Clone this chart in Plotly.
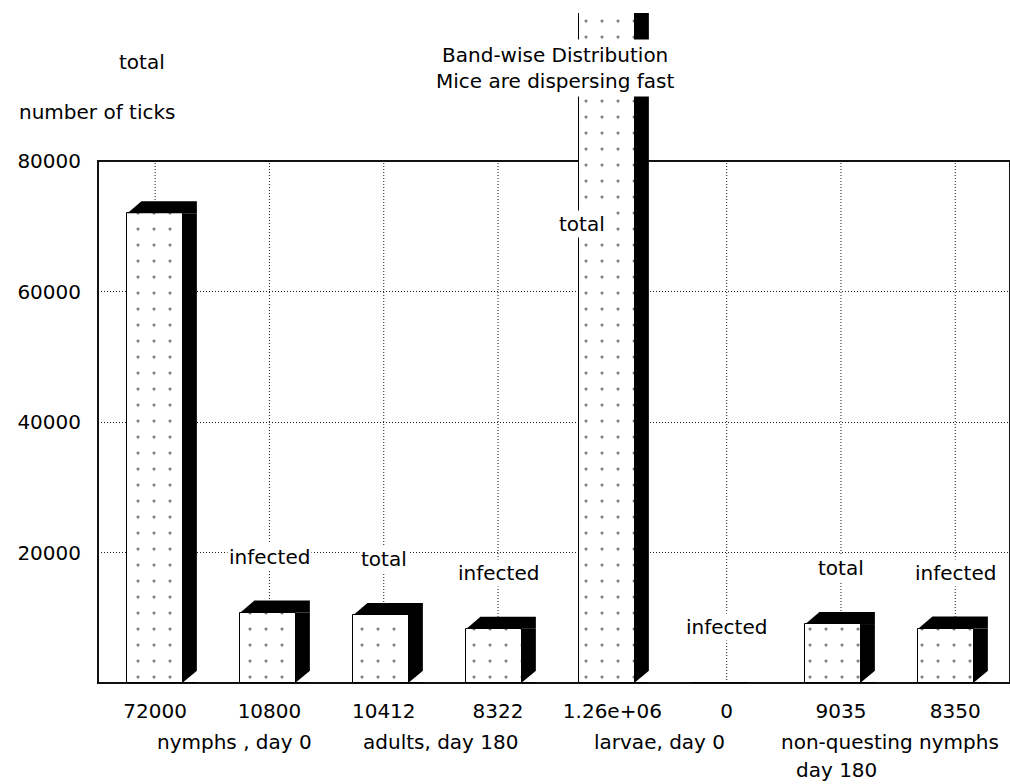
import plotly.graph_objects as go

# ---------------- data ----------------
values = [72000, 10800, 10412, 8322, 1260000, 0, 9035, 8350]
bar_labels = ["total", "infected", "total", "infected", "total", "infected", "total", "infected"]
groups = ["nymphs , day 0", "adults, day 180", "larvae, day 0", "non-questing nymphs"]
group_sub = ["", "", "", "day 180"]
ytick_vals = [20000, 40000, 60000, 80000]
title_lines = ["Band-wise Distribution", "Mice are dispersing fast"]
y_title = "number of ticks"

# ---------------- layout constants ----------------
W, H = 1010, 784
ML, MR, MT, MB = 98, 0, 13, 101
FRAME_TOP = 80000
FRAME_PX = 522                      # pixel height of 0..80000
PLOT_H = H - MT - MB
YMAX = FRAME_TOP * PLOT_H / FRAME_PX
N = len(values)
PX_X = 114.3                        # pixels per category (ticks / gridlines)
BAR_PITCH = 113.0                   # the bars are drawn on a slightly tighter pitch
XMAX = -0.5 + (W - ML - MR) / PX_X
BAR_W = 0.485
HALF = BAR_W * PX_X / 2
DX, DY = 14, 12                     # 3-D depth in pixels

FONT = dict(family="DejaVu Sans", size=20, color="black")
GRID = "#1a1a1a"
DASH = "1px,2px"


def fmt(v):
    return "%g" % v


xs = list(range(N))
drift = [i * (BAR_PITCH / PX_X - 1) for i in xs]
bar_centres = [i + d for i, d in zip(xs, drift)]

fig = go.Figure()
fig.add_trace(go.Bar(
    x=xs, y=values, width=BAR_W, offset=[d - BAR_W / 2 for d in drift],
    marker=dict(color="white", line=dict(color="black", width=1),
                pattern=dict(shape=".", fgcolor="black", bgcolor="white",
                             size=16, solidity=0.03, fillmode="overlay")),
    hoverinfo="skip",
))

shapes = []
# vertical dotted gridlines (only inside the frame)
for i in xs:
    shapes.append(dict(type="line", xref="x", yref="y", x0=i, x1=i, y0=0, y1=FRAME_TOP,
                       line=dict(color=GRID, width=1, dash=DASH), layer="between"))
# frame
shapes.append(dict(type="rect", xref="paper", yref="paper", x0=0, x1=1, y0=0,
                   y1=FRAME_PX / PLOT_H,
                   line=dict(color="#111111", width=2), layer="below"))

# 3-D black side and top of every bar
for c, v in zip(bar_centres, values):
    if v <= 0:
        continue
    shapes.append(dict(type="rect", xref="x", yref="y", xsizemode="pixel", xanchor=c,
                       x0=HALF, x1=HALF + DX, y0=0, y1=v,
                       fillcolor="black", line=dict(width=0), layer="above"))
    shapes.append(dict(type="path", xref="x", yref="y", xsizemode="pixel", ysizemode="pixel",
                       xanchor=c, yanchor=v,
                       path=f"M {-HALF},0 L {-HALF + DX},{DY} L {HALF + DX},{DY} L {HALF + DX},0 L {HALF},0 Z",
                       fillcolor="black", line=dict(width=0), layer="above"))
    shapes.append(dict(type="path", xref="x", yref="y", xsizemode="pixel", ysizemode="pixel",
                       xanchor=c, yanchor=0,
                       path=f"M {HALF + 0.5},1 L {HALF + DX + 1},1 L {HALF + DX + 1},{DY + 1} Z",
                       fillcolor="white", line=dict(width=0), layer="above"))

annotations = []
# labels above bars
for i, (v, lab) in enumerate(zip(values, bar_labels)):
    a = dict(text=lab, x=i, y=v, xref="x", yref="y", showarrow=False, font=FONT,
             bgcolor="white", borderpad=1, yshift=56, yanchor="middle")
    if i == 0:
        a.update(yshift=151, xshift=-13)
    if v > FRAME_TOP:
        a.update(y=FRAME_TOP, yshift=-63, xshift=-30)
    annotations.append(a)

# group labels below tick values
for g, (name, sub) in enumerate(zip(groups, group_sub)):
    xc = 2 * g + 0.5
    sh = 22 if g == 0 else (-8 if g == 3 else (-10 if g == 2 else 0))
    annotations.append(dict(text=name, x=xc, y=0, xref="x", yref="paper", showarrow=False,
                            font=FONT, yanchor="middle", yshift=-59, xshift=sh))
    if sub:
        annotations.append(dict(text=sub, x=xc, y=0, xref="x", yref="paper", showarrow=False,
                                font=FONT, yanchor="middle", yshift=-87, xshift=-62))

# title
annotations.append(dict(text="<br>".join(title_lines), x=0.5, y=1, xref="paper", yref="paper",
                        xshift=1, yshift=-55, yanchor="middle", showarrow=False, font=FONT,
                        bgcolor="white", borderpad=3))
# y axis title block
annotations.append(dict(text=y_title, x=0, y=1, xref="paper", yref="paper", xanchor="right",
                        xshift=79, yshift=-99, yanchor="middle", showarrow=False, font=FONT))

fig.update_layout(
    width=W, height=H,
    margin=dict(l=ML, r=MR, t=MT, b=MB, pad=0),
    paper_bgcolor="white", plot_bgcolor="white",
    showlegend=False, bargap=0,
    shapes=shapes, annotations=annotations,
    font=FONT,
    xaxis=dict(range=[-0.5, XMAX], tickvals=xs, ticktext=[fmt(v) for v in values],
               showgrid=False, zeroline=False, showline=False, ticks="",
               ticklabelstandoff=14, tickfont=FONT, fixedrange=True),
    yaxis=dict(range=[0, YMAX], tickvals=ytick_vals, ticktext=[str(t) for t in ytick_vals],
               showgrid=True, gridcolor=GRID, griddash=DASH, gridwidth=1,
               zeroline=False, showline=False, ticks="", ticklabelstandoff=16,
               tickfont=FONT, fixedrange=True),
)

fig.write_html("out.html")
